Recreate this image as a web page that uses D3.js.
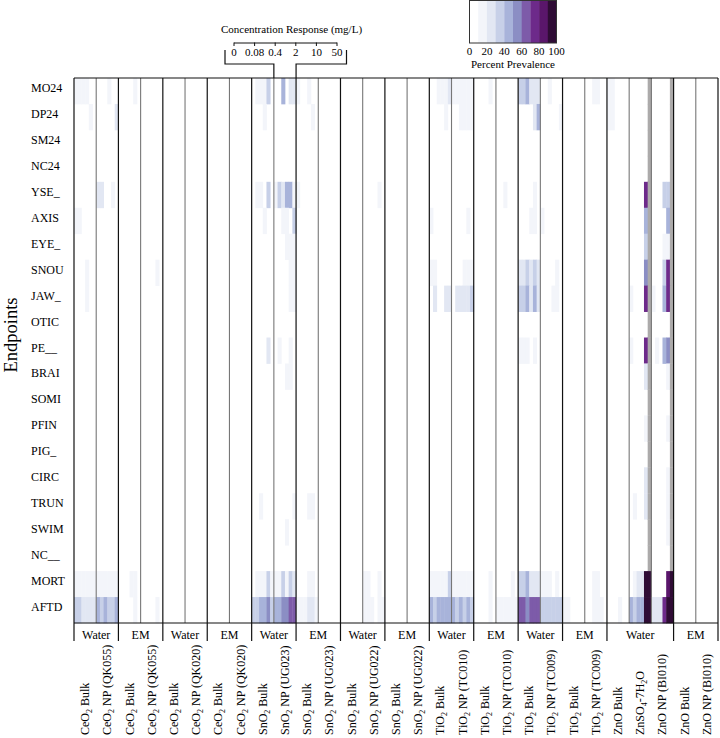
<!DOCTYPE html>
<html><head><meta charset="utf-8">
<script src="https://cdn.jsdelivr.net/npm/d3@7"></script>
<style>
body{margin:0;background:#fff}
svg text{font-family:"Liberation Serif","Times New Roman",serif;fill:#000}
</style>
</head><body>
<svg id="chart" width="720" height="738" font-family="Liberation Serif, serif"></svg>
<script>
// ---------------- DATA ----------------
const endpoints = ["MO24","DP24","SM24","NC24","YSE_","AXIS","EYE_","SNOU","JAW_","OTIC","PE__","BRAI","SOMI","PFIN","PIG_","CIRC","TRUN","SWIM","NC__","MORT","AFTD"];
const concentrations = ["0","0.08","0.4","2","10","50"];
const substanceLabels = [
  "CeO_2 Bulk","CeO_2 NP (QK055)","CeO_2 Bulk","CeO_2 NP (QK055)",
  "CeO_2 Bulk","CeO_2 NP (QK020)","CeO_2 Bulk","CeO_2 NP (QK020)",
  "SnO_2 Bulk","SnO_2 NP (UG023)","SnO_2 Bulk","SnO_2 NP (UG023)",
  "SnO_2 Bulk","SnO_2 NP (UG022)","SnO_2 Bulk","SnO_2 NP (UG022)",
  "TiO_2 Bulk","TiO_2 NP (TC010)","TiO_2 Bulk","TiO_2 NP (TC010)",
  "TiO_2 Bulk","TiO_2 NP (TC009)","TiO_2 Bulk","TiO_2 NP (TC009)",
  "ZnO Bulk","ZnSO_4-7H_2O","ZnO NP (BI010)","ZnO Bulk","ZnO NP (BI010)"
];
const groupMedia = ["Water","EM","Water","EM","Water","EM","Water","EM","Water","EM","Water","EM","Water","EM"];
const groupSizes = [2,2,2,2,2,2,2,2,2,2,2,2,3,2];
const legendTicks = [0,20,40,60,80,100];
const bandThresholds = [10,20,30,40,50,60,70,80,90];
const bandColors = ["#ffffff","#f3f5fa","#e2e7f3","#c7d0e8","#a8b3da","#8b8ec4","#7d5ba9","#6d2a8a","#5a166b","#2f0c35"];
const NA = null;

// percent prevalence per substance column: endpoint -> values at each concentration (missing rows = 0)
const s00_CeO2Bulk_W1 = {MO24:[12,12,12,12,0,0],DP24:[0,0,0,0,10,0],AXIS:[11,11,0,0,0,0],SNOU:[0,0,0,11,0,0],JAW_:[0,0,0,11,0,0],MORT:[14,14,12,12,12,12],AFTD:[35,35,25,25,25,25]};
const s01_CeO2NP_QK055_W = {MO24:[0,0,0,11,0,0],DP24:[0,0,0,0,0,20],YSE_:[22,22,0,0,18,0],MORT:[11,11,11,11,12,15],AFTD:[45,35,42,32,35,40]};
const s02_CeO2Bulk_EM1 = {MO24:[0,0,0,0,10,0],MORT:[0,0,0,10,10,0],AFTD:[0,0,0,0,10,0]};
const s03_CeO2NP_QK055_EM = {SNOU:[0,0,0,0,10,0],AFTD:[0,0,0,0,10,0]};
const s04_CeO2Bulk_W2 = {};
const s05_CeO2NP_QK020_W = {};
const s06_CeO2Bulk_EM2 = {};
const s07_CeO2NP_QK020_EM = {};
const s08_SnO2Bulk_W1 = {MO24:[0,12,12,12,35,0],DP24:[0,0,0,10,0,0],YSE_:[0,10,10,0,35,0],AXIS:[0,0,0,10,0,0],PE__:[0,0,0,0,20,0],TRUN:[0,0,10,0,0,0],MORT:[0,15,15,15,32,15],AFTD:[38,38,45,40,55,38]};
const s09_SnO2NP_UG023_W = {MO24:[0,0,40,0,22,22],YSE_:[12,38,22,48,48,12],AXIS:[0,0,10,10,0,35],EYE_:[0,0,0,10,10,10],SNOU:[0,0,0,0,10,10],JAW_:[0,0,0,0,10,10],PE__:[0,10,0,0,10,0],BRAI:[0,0,0,10,10,0],TRUN:[0,0,0,0,0,15],SWIM:[0,0,0,10,0,0],MORT:[12,12,35,15,30,22],AFTD:[45,45,50,50,65,65]};
const s10_SnO2Bulk_EM1 = {MO24:[15,0,0,10,0,0],DP24:[0,0,0,0,10,0],YSE_:[10,0,0,0,0,0],TRUN:[0,0,0,10,10,0],MORT:[0,0,0,18,15,0],AFTD:[15,15,15,20,20,12]};
const s11_SnO2NP_UG023_EM = {};
const s12_SnO2Bulk_W2 = {};
const s13_SnO2NP_UG022_W = {YSE_:[0,0,0,0,10,0],MORT:[10,10,0,0,10,0],AFTD:[10,10,10,0,10,10]};
const s14_SnO2Bulk_EM2 = {};
const s15_SnO2NP_UG022_EM = {};
const s16_TiO2Bulk_W1 = {MO24:[0,0,12,12,12,22],DP24:[0,0,0,0,10,0],AXIS:[10,0,0,0,0,0],SNOU:[10,10,0,0,0,0],JAW_:[0,20,0,0,22,25],MORT:[10,10,10,10,10,35],AFTD:[45,38,42,42,48,48]};
const s17_TiO2NP_TC010_W = {MO24:[12,12,12,12,12,12],DP24:[0,0,12,12,12,12],AXIS:[0,0,0,0,10,0],SNOU:[0,0,0,10,10,10],JAW_:[0,25,25,25,25,30],MORT:[12,12,12,12,12,12],AFTD:[45,35,45,35,45,32]};
const s18_TiO2Bulk_EM1 = {MO24:[0,0,0,0,10,0],MORT:[0,0,0,0,10,0],AFTD:[0,0,0,0,10,0]};
const s19_TiO2NP_TC010_EM = {YSE_:[0,0,10,0,0,0],MORT:[0,0,0,0,10,0],AFTD:[12,12,12,12,12,12]};
const s20_TiO2Bulk_W2 = {MO24:[35,35,48,22,22,22],DP24:[0,0,0,0,22,45],YSE_:[0,0,0,0,10,0],AXIS:[0,0,0,10,10,0],SNOU:[22,22,38,22,38,22],JAW_:[32,32,45,22,42,22],PE__:[10,10,10,0,10,0],MORT:[30,30,45,22,28,28],AFTD:[65,65,58,68,65,62]};
const s21_TiO2NP_TC009_W = {MO24:[0,0,12,0,0,0],DP24:[0,0,0,0,0,10],AXIS:[10,0,0,0,0,0],SNOU:[0,0,0,0,15,0],JAW_:[0,0,0,15,15,0],MORT:[15,15,15,0,12,0],AFTD:[35,35,35,30,35,35]};
const s22_TiO2Bulk_EM2 = {AFTD:[10,10,0,0,0,0]};
const s23_TiO2NP_TC009_EM = {MO24:[0,0,12,12,0,0],MORT:[0,0,10,10,0,0],AFTD:[0,0,12,12,10,0]};
const s24_ZnOBulk_W = {MO24:[10,10,0,0,0,0],DP24:[10,10,0,0,0,0],AFTD:[0,0,0,10,0,0]};
const s25_ZnSO4_W = {MO24:[0,0,0,0,0,NA],DP24:[0,0,0,0,0,NA],SM24:[0,0,0,0,0,NA],NC24:[0,0,0,0,0,NA],YSE_:[0,0,0,0,75,NA],AXIS:[0,0,0,0,42,NA],EYE_:[0,0,0,0,38,NA],SNOU:[0,0,0,0,55,NA],JAW_:[10,0,0,0,75,NA],OTIC:[0,0,0,0,0,NA],PE__:[10,0,0,0,75,NA],BRAI:[0,0,0,0,22,NA],SOMI:[0,0,0,0,0,NA],PFIN:[0,0,0,0,15,NA],PIG_:[0,0,0,0,0,NA],CIRC:[0,0,0,0,25,NA],TRUN:[0,10,0,0,25,NA],SWIM:[0,0,0,0,0,NA],NC__:[0,0,0,0,0,NA],MORT:[0,15,20,25,90,100],AFTD:[45,38,45,42,95,100]};
const s26_ZnONP_BI010_W = {MO24:[0,0,0,0,0,NA],DP24:[0,0,0,0,0,NA],SM24:[0,0,0,0,0,NA],NC24:[0,0,0,0,0,NA],YSE_:[0,0,0,32,32,NA],AXIS:[0,0,0,0,45,NA],EYE_:[0,0,0,15,15,NA],SNOU:[0,0,0,35,75,NA],JAW_:[10,0,0,45,75,NA],OTIC:[0,0,0,0,0,NA],PE__:[0,10,0,42,55,NA],BRAI:[0,0,0,0,12,NA],SOMI:[0,0,0,0,0,NA],PFIN:[0,0,0,0,10,NA],PIG_:[0,0,0,0,0,NA],CIRC:[0,0,0,0,10,NA],TRUN:[0,0,0,0,10,NA],SWIM:[0,0,0,0,10,NA],NC__:[0,0,0,0,0,NA],MORT:[0,0,0,0,80,95],AFTD:[22,22,22,75,95,100]};
const s27_ZnOBulk_EM = {};
const s28_ZnONP_BI010_EM = {};

const prevalence = [s00_CeO2Bulk_W1,s01_CeO2NP_QK055_W,s02_CeO2Bulk_EM1,s03_CeO2NP_QK055_EM,s04_CeO2Bulk_W2,s05_CeO2NP_QK020_W,s06_CeO2Bulk_EM2,s07_CeO2NP_QK020_EM,
  s08_SnO2Bulk_W1,s09_SnO2NP_UG023_W,s10_SnO2Bulk_EM1,s11_SnO2NP_UG023_EM,s12_SnO2Bulk_W2,s13_SnO2NP_UG022_W,s14_SnO2Bulk_EM2,s15_SnO2NP_UG022_EM,
  s16_TiO2Bulk_W1,s17_TiO2NP_TC010_W,s18_TiO2Bulk_EM1,s19_TiO2NP_TC010_EM,s20_TiO2Bulk_W2,s21_TiO2NP_TC009_W,s22_TiO2Bulk_EM2,s23_TiO2NP_TC009_EM,
  s24_ZnOBulk_W,s25_ZnSO4_W,s26_ZnONP_BI010_W,s27_ZnOBulk_EM,s28_ZnONP_BI010_EM];

// ---------------- CHART ----------------
(function(){
const svg = d3.select("#chart");
const pL = 74, pR = 718, pT = 78, pB = 623;
const x = d3.scaleBand().domain(d3.range(substanceLabels.length)).range([pL, pR]);
const xc = d3.scaleBand().domain(concentrations).range([0, x.bandwidth()]);
const y = d3.scaleBand().domain(endpoints).range([pT, pB]);
const color = d3.scaleThreshold().domain(bandThresholds).range(bandColors);

// cells
const cells = [];
prevalence.forEach((sub, si) => {
  endpoints.forEach(ep => {
    const vals = sub[ep];
    if (!vals) return;
    vals.forEach((v, ci) => {
      if (v === null || v >= 10) cells.push({si, ep, c: concentrations[ci], v});
    });
  });
});
svg.append("g").selectAll("rect").data(cells).join("rect")
  .attr("x", d => x(d.si) + xc(d.c))
  .attr("y", d => y(d.ep))
  .attr("width", xc.bandwidth() + 0.4)
  .attr("height", y.bandwidth() + 0.4)
  .attr("fill", d => d.v === null ? "#acaaaa" : color(d.v));

// group boundaries
const boundaries = [0];
groupSizes.forEach(n => boundaries.push(boundaries[boundaries.length - 1] + n));
const bset = new Set(boundaries);
const edgeX = i => i === substanceLabels.length ? pR : x(i);

const grid = svg.append("g");
d3.range(1, substanceLabels.length).filter(i => !bset.has(i)).forEach(i => {
  grid.append("line").attr("x1", edgeX(i)).attr("x2", edgeX(i)).attr("y1", pT).attr("y2", pB)
    .attr("stroke", "#777").attr("stroke-width", 1.1);
});
boundaries.forEach(i => {
  grid.append("line").attr("x1", edgeX(i)).attr("x2", edgeX(i)).attr("y1", pT).attr("y2", pB + 18)
    .attr("stroke", "#111").attr("stroke-width", 1.2);
});
grid.append("line").attr("x1", pL).attr("x2", pR).attr("y1", pT).attr("y2", pT).attr("stroke", "#111").attr("stroke-width", 1.2);
grid.append("line").attr("x1", pL).attr("x2", pR).attr("y1", pB).attr("y2", pB).attr("stroke", "#111").attr("stroke-width", 1.2);

// media labels
groupMedia.forEach((m, gi) => {
  const cx = (edgeX(boundaries[gi]) + edgeX(boundaries[gi + 1])) / 2;
  svg.append("text").attr("x", cx).attr("y", 639).attr("text-anchor", "middle")
    .style("font-size", "12px").text(m);
});

// endpoint labels
svg.append("g").selectAll("text").data(endpoints).join("text")
  .attr("x", 31).attr("y", d => y(d) + y.bandwidth() / 2 + 1)
  .style("font-size", "12px").text(d => d);

svg.append("text").attr("transform", "translate(17,335) rotate(-90)")
  .attr("text-anchor", "middle").style("font-size", "18.5px").text("Endpoints");

// substance labels (rotated, with subscripts)
function addLabel(sel, label) {
  const parts = label.split(/(_.)/).filter(s => s.length);
  let shifted = false;
  parts.forEach(p => {
    if (p[0] === "_") {
      sel.append("tspan").attr("dy", 3).style("font-size", "8px").text(p[1]);
      shifted = true;
    } else {
      const t = sel.append("tspan").text(p);
      if (shifted) { t.attr("dy", -3); shifted = false; }
    }
  });
}
substanceLabels.forEach((lab, i) => {
  const cx = x(i) + x.bandwidth() / 2;
  const t = svg.append("text").attr("transform", `translate(${cx + 4},735) rotate(-90)`)
    .style("font-size", "12px");
  addLabel(t, lab);
});

// concentration key
const kx = d3.scalePoint().domain(concentrations).range([233.5, 336.5]);
svg.append("text").attr("x", 291.5).attr("y", 33).attr("text-anchor", "middle")
  .style("font-size", "11px").text("Concentration Response (mg/L)");
const kax = svg.append("g").attr("transform", "translate(0,42.5)")
  .call(d3.axisBottom(kx).tickSize(3.5).tickSizeOuter(0).tickPadding(2));
kax.attr("font-family", null).attr("font-size", null);
kax.select(".domain").attr("stroke", "#111");
kax.selectAll(".tick line").attr("stroke", "#111");
kax.selectAll("text").style("font-size", "11px").attr("fill", "#000");
const keyL = x(9), keyR = x(9) + x.bandwidth();
svg.append("path").attr("fill", "none").attr("stroke", "#111").attr("stroke-width", 1.2)
  .attr("d", `M225,50V64H${keyL}V${pT} M346.5,50V64H${keyR}V${pT}`);

// color legend
const lx = d3.scaleLinear().domain([0, 100]).range([469.5, 556.5]);
const bands = d3.range(bandColors.length);
svg.append("g").selectAll("rect").data(bands).join("rect")
  .attr("x", i => lx(i * 10)).attr("y", 0.5)
  .attr("width", lx(10) - lx(0) + 0.3).attr("height", 42.5)
  .attr("fill", i => bandColors[i]);
svg.append("rect").attr("x", lx(0)).attr("y", 0.5).attr("width", lx(100) - lx(0)).attr("height", 42.5)
  .attr("fill", "none").attr("stroke", "#333").attr("stroke-width", 1);
svg.append("g").selectAll("text").data(legendTicks).join("text")
  .attr("x", d => lx(d)).attr("y", 55).attr("text-anchor", "middle")
  .style("font-size", "11px").text(d => d);
svg.append("text").attr("x", 513).attr("y", 68).attr("text-anchor", "middle")
  .style("font-size", "11px").text("Percent Prevalence");
})();
</script>
</body></html>
